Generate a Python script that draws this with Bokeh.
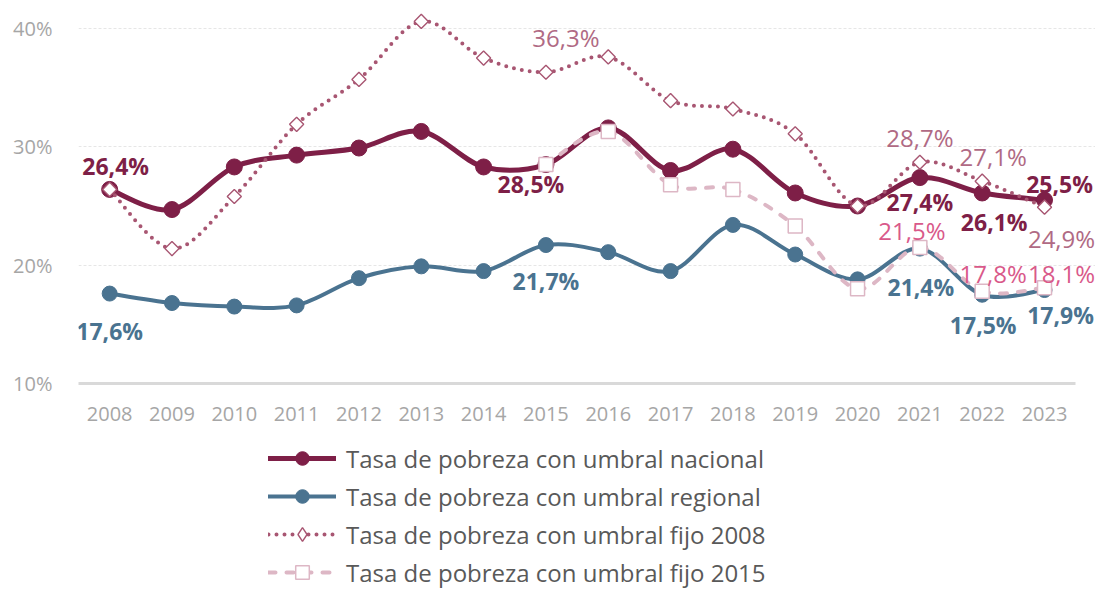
import numpy as np
from bokeh.plotting import figure
from bokeh.layouts import column
from bokeh.models import (ColumnDataSource, FixedTicker, PrintfTickFormatter,
                          Legend, LegendItem, Range1d)
from bokeh.core.properties import value
from bokeh.embed import file_html
from bokeh.resources import INLINE

# ---------------- data ----------------
years = list(range(2008, 2024))
nacional = [26.4, 24.7, 28.3, 29.3, 29.9, 31.3, 28.3, 28.5, 31.6, 28.0, 29.8, 26.1, 25.0, 27.4, 26.1, 25.5]
regional = [17.6, 16.8, 16.5, 16.6, 18.9, 19.9, 19.5, 21.7, 21.1, 19.5, 23.4, 20.9, 18.8, 21.4, 17.5, 17.9]
fijo2008 = [26.4, 21.4, 25.8, 31.9, 35.7, 40.6, 37.5, 36.3, 37.6, 33.9, 33.2, 31.1, 25.0, 28.7, 27.1, 24.9]
years2015 = list(range(2015, 2024))
fijo2015 = [28.5, 31.3, 26.8, 26.4, 23.3, 18.0, 21.5, 17.8, 18.1]

series_names = ["Tasa de pobreza con umbral nacional",
                "Tasa de pobreza con umbral regional",
                "Tasa de pobreza con umbral fijo 2008",
                "Tasa de pobreza con umbral fijo 2015"]
y_ticks = [10, 20, 30, 40]

# labelled years per series
lab_nac_years = [2008, 2015, 2021, 2022, 2023]
lab_reg_years = [2008, 2015, 2021, 2022, 2023]
lab_f08_years = [2015, 2021, 2022, 2023]
lab_f15_years = [2021, 2022, 2023]

# ---------------- style ----------------
C_NAC = "#7E1F47"
C_REG = "#4A7390"
C_F08 = "#A85672"
C_F08_TXT = "#B06A84"
C_F15 = "#DDB7C5"
C_F15_TXT = "#D9598A"
FONT = "Open Sans"

# label offsets (screen px: dx right, dy down)
off_nac = [(6, -23), (-15, 19), (0, 24), (12, 29), (15, -16)]
off_reg = [(0, 37), (0, 36), (1, 38), (1, 30), (16, 25)]
off_f08 = [(20, -35), (0, -25), (11, -25), (17, 31)]
off_f15 = [(-8, -17), (11, -18), (17, -14)]

W = 1095
H1 = 432
H2 = 157

p = figure(width=W, height=H1, output_backend="svg", toolbar_location=None,
           x_range=Range1d(2007.5, 2023.818), y_range=Range1d(10, 41.69),
           min_border_left=78, min_border_right=0, min_border_top=8,
           min_border_bottom=H1 - 383)
p.outline_line_color = None
p.background_fill_color = "white"
p.border_fill_color = "white"

# axes
p.xaxis.ticker = FixedTicker(ticks=years)
p.yaxis.ticker = FixedTicker(ticks=y_ticks)
p.yaxis.formatter = PrintfTickFormatter(format="%d%%")
for ax in (p.xaxis[0], p.yaxis[0]):
    ax.major_tick_line_color = None
    ax.minor_tick_line_color = None
    ax.major_label_text_color = "#A6A6A6"
    ax.major_label_text_font = FONT
    ax.major_label_text_font_size = "20px"
p.yaxis.axis_line_color = None
p.yaxis.major_label_standoff = 20
p.xaxis.axis_line_color = "#D9D9D9"
p.xaxis.axis_line_width = 3
p.xaxis.bounds = (2007.5, 2023.5)
p.xaxis.major_label_standoff = 17
p.xgrid.grid_line_color = None
p.ygrid.ticker = FixedTicker(ticks=[20, 30, 40])
p.ygrid.grid_line_color = "#E6E6E6"
p.ygrid.grid_line_dash = "3 2"
p.ygrid.grid_line_width = 1


def smooth(xs, ys):
    xs = np.asarray(xs, float)
    ys = np.asarray(ys, float)
    n = len(xs)
    d = dict(x0=[], y0=[], x1=[], y1=[], cx0=[], cy0=[], cx1=[], cy1=[])
    for i in range(n - 1):
        a = max(i - 1, 0)
        b = min(i + 2, n - 1)
        d["x0"].append(xs[i]); d["y0"].append(ys[i])
        d["x1"].append(xs[i + 1]); d["y1"].append(ys[i + 1])
        d["cx0"].append(xs[i] + (xs[i + 1] - xs[a]) / 6)
        d["cy0"].append(ys[i] + (ys[i + 1] - ys[a]) / 6)
        d["cx1"].append(xs[i + 1] - (xs[b] - xs[i]) / 6)
        d["cy1"].append(ys[i + 1] - (ys[b] - ys[i]) / 6)
    return ColumnDataSource(d)


BZ = dict(x0="x0", y0="y0", x1="x1", y1="y1", cx0="cx0", cy0="cy0", cx1="cx1", cy1="cy1")

# regional
p.bezier(source=smooth(years, regional), line_color=C_REG, line_width=4, line_cap="round", **BZ)
p.scatter(years, regional, marker="circle", size=15, fill_color=C_REG, line_color=C_REG)

# nacional
p.bezier(source=smooth(years, nacional), line_color=C_NAC, line_width=5, line_cap="round", **BZ)
p.scatter(years, nacional, marker="circle", size=16, fill_color=C_NAC, line_color=C_NAC)

# fijo 2008 (dotted)
p.bezier(source=smooth(years, fijo2008), line_color=C_F08, line_width=4,
         line_dash="0 8", line_cap="round", **BZ)
p.scatter(years, fijo2008, marker="square", angle=np.pi / 4, size=10,
          fill_color="white", line_color=C_F08, line_width=1.4)

# fijo 2015 (dashed)
p.bezier(source=smooth(years2015, fijo2015), line_color=C_F15, line_width=4,
         line_dash="7 11", line_cap="round", **BZ)
p.scatter(years2015, fijo2015, marker="square", size=14,
          fill_color="white", line_color=C_F15, line_width=1.5)


def fmt(v):
    return f"{v:.1f}".replace(".", ",") + "%"


def add_labels(xs_all, ys_all, lab_years, offs, color, bold):
    ys = [ys_all[xs_all.index(y)] for y in lab_years]
    src = ColumnDataSource(dict(x=lab_years, y=ys, t=[fmt(v) for v in ys],
                                dx=[o[0] for o in offs], dy=[o[1] for o in offs]))
    p.text(x="x", y="y", text="t", x_offset="dx", y_offset="dy", source=src,
           text_color=color, text_font=value(FONT),
           text_font_size="23px" if bold else "24px",
           text_font_style="bold" if bold else "normal",
           text_align="center", text_baseline="middle")


add_labels(years, nacional, lab_nac_years, off_nac, C_NAC, True)
add_labels(years, regional, lab_reg_years, off_reg, C_REG, True)
add_labels(years, fijo2008, lab_f08_years, off_f08, C_F08_TXT, False)
add_labels(years2015, fijo2015, lab_f15_years, off_f15, C_F15_TXT, False)

# ---------------- legend figure ----------------
q = figure(width=W, height=H2, output_backend="svg", toolbar_location=None,
           x_range=Range1d(0, 1), y_range=Range1d(0, 1),
           x_axis_type=None, y_axis_type=None, min_border=0)
q.outline_line_color = None
q.grid.visible = False

nan = [np.nan]
l1 = q.line(nan, nan, line_color=C_NAC, line_width=5, line_cap="round")
m1 = q.scatter(nan, nan, marker="circle", fill_color=C_NAC, line_color=C_NAC)
l2 = q.line(nan, nan, line_color=C_REG, line_width=4, line_cap="round")
m2 = q.scatter(nan, nan, marker="circle", fill_color=C_REG, line_color=C_REG)
l3 = q.line(nan, nan, line_color=C_F08, line_width=4, line_dash="0 8", line_cap="round")
m3 = q.scatter(nan, nan, marker="diamond",
               fill_color="white", line_color=C_F08, line_width=1.4)
l4 = q.line(nan, nan, line_color=C_F15, line_width=4, line_dash="7 11", line_cap="round")
m4 = q.scatter(nan, nan, marker="square", fill_color="white",
               line_color=C_F15, line_width=1.5)

legend = Legend(items=[LegendItem(label=series_names[0], renderers=[l1, m1]),
                       LegendItem(label=series_names[1], renderers=[l2, m2]),
                       LegendItem(label=series_names[2], renderers=[l3, m3]),
                       LegendItem(label=series_names[3], renderers=[l4, m4])],
                location=(190, 0), orientation="vertical",
                glyph_width=68, glyph_height=34, label_height=34,
                label_standoff=10, spacing=4, padding=0, margin=0,
                border_line_color=None, background_fill_alpha=0,
                label_text_font=FONT, label_text_font_size="24px",
                label_text_color="#595959")
q.add_layout(legend)

open("out.html", "w").write(file_html(column(p, q, spacing=0), INLINE))
